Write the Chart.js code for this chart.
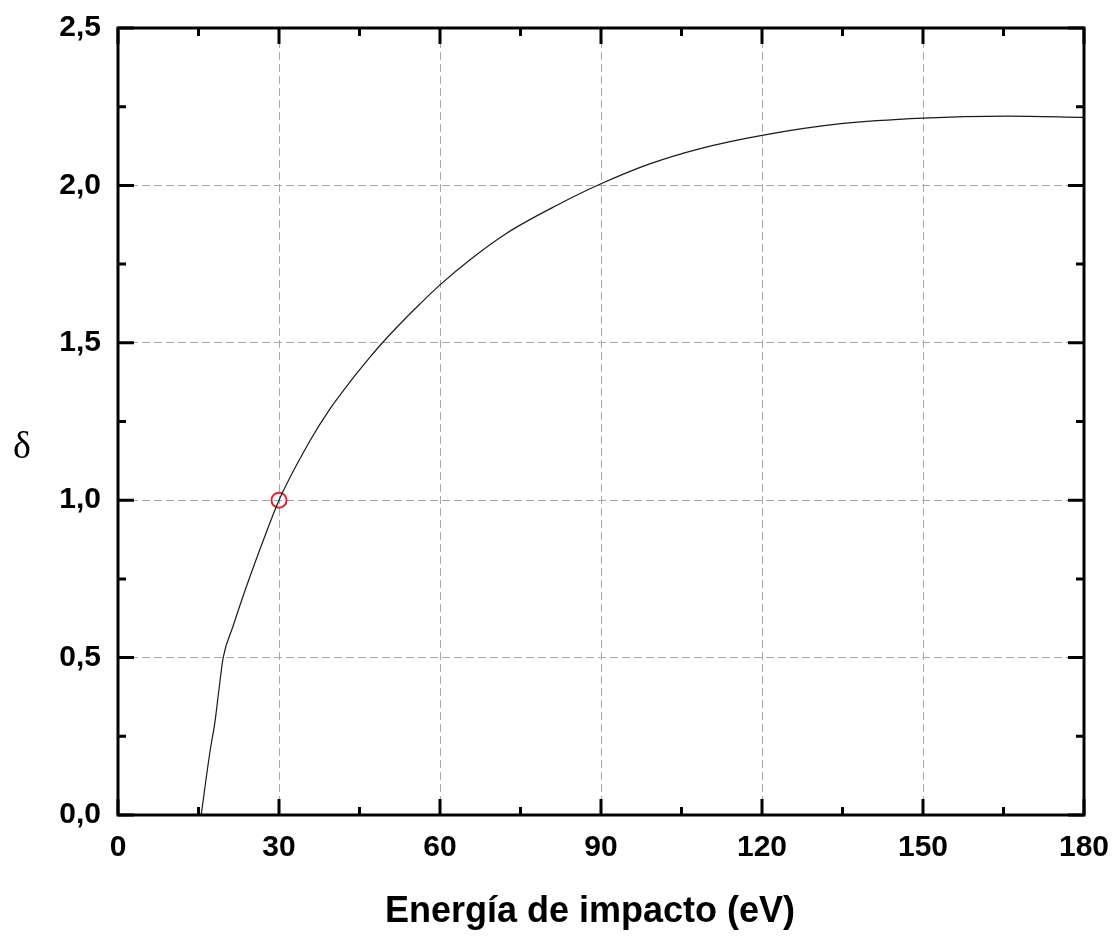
<!DOCTYPE html>
<html>
<head>
<meta charset="utf-8">
<script src="https://cdn.jsdelivr.net/npm/chart.js@4"></script>
<style>
  body { margin: 0; background: #fff; }
  #wrap { width: 1120px; height: 936px; }
</style>
</head>
<body>
<div id="wrap"><canvas id="grafica"></canvas></div>
<script>
// curva de emisión secundaria
const energia = [15.5, 17.1, 18.1, 18.8, 19.6, 21.4, 23.3, 24.9, 27.4, 30, 35.75, 39.5, 43.2, 47, 49.1, 52.5, 56.3, 60, 65.6, 72.5, 81.8, 90, 99.2, 108.5, 120, 134.7, 150, 165.8, 180];
const delta = [0, 0.197, 0.3, 0.397, 0.5, 0.598, 0.695, 0.772, 0.887, 1.0, 1.188, 1.29, 1.375, 1.455, 1.497, 1.559, 1.624, 1.684, 1.764, 1.849, 1.937, 2.005, 2.069, 2.117, 2.159, 2.196, 2.214, 2.22, 2.216];

// punto marcado (delta = 1)
const marcaX = [30];
const marcaY = [1.0];

// ticks
const xTicks = [0, 30, 60, 90, 120, 150, 180];
const xMinor = [15, 45, 75, 105, 135, 165];
const yTicks = [0, 0.5, 1.0, 1.5, 2.0, 2.5];
const yTickLabels = ['0,0', '0,5', '1,0', '1,5', '2,0', '2,5'];
const yMinor = [0.25, 0.75, 1.25, 1.75, 2.25];

const tituloX = 'Energía de impacto (eV)';
const tituloY = 'δ';

// marco, ticks hacia dentro y títulos (como en Origin)
const marco = {
  id: 'marco',
  afterDatasetsDraw(chart) {
    const { ctx, chartArea: a, scales } = chart;
    const sx = scales.x, sy = scales.y;
    ctx.save();
    ctx.strokeStyle = '#000';
    ctx.lineWidth = 3;
    ctx.lineCap = 'butt';
    ctx.beginPath();
    const tick = (vals, len) => {
      vals.forEach(v => {
        const px = sx.getPixelForValue(v);
        ctx.moveTo(px, a.bottom); ctx.lineTo(px, a.bottom - len);
        ctx.moveTo(px, a.top); ctx.lineTo(px, a.top + len);
      });
    };
    const tickY = (vals, len) => {
      vals.forEach(v => {
        const py = sy.getPixelForValue(v);
        ctx.moveTo(a.left, py); ctx.lineTo(a.left + len, py);
        ctx.moveTo(a.right, py); ctx.lineTo(a.right - len, py);
      });
    };
    tick(xTicks, 16);
    tick(xMinor, 8);
    tickY(yTicks, 16);
    tickY(yMinor, 8);
    ctx.stroke();
    ctx.strokeRect(a.left, a.top, a.right - a.left, a.bottom - a.top);

    ctx.fillStyle = '#000';
    ctx.textAlign = 'center';
    ctx.textBaseline = 'middle';
    // título del eje y (sin rotar)
    ctx.font = '38px "Liberation Serif", "Times New Roman", serif';
    ctx.fillText(tituloY, 22, 448);
    // título del eje x
    ctx.font = 'bold 36px "Liberation Sans", Arial, sans-serif';
    ctx.fillText(tituloX, 590, 912);
    ctx.restore();
  }
};

const fuente = { family: '"Liberation Sans", Arial, sans-serif', size: 30, weight: 'bold' };

new Chart(document.getElementById('grafica'), {
  type: 'scatter',
  data: {
    datasets: [{
      data: energia.map((e, i) => ({ x: e, y: delta[i] })),
      showLine: true,
      borderColor: '#1a1a1a',
      borderWidth: 1.2,
      pointRadius: 0,
      cubicInterpolationMode: 'monotone'
    }, {
      data: marcaX.map((e, i) => ({ x: e, y: marcaY[i] })),
      pointStyle: 'circle',
      pointRadius: 7.5,
      borderColor: '#e8202a',
      borderWidth: 2,
      backgroundColor: 'rgba(0,0,0,0)'
    }]
  },
  options: {
    responsive: true,
    maintainAspectRatio: false,
    animation: false,
    layout: { padding: { top: 28, right: 36, left: 0, bottom: 0 } },
    plugins: { legend: { display: false }, tooltip: { enabled: false } },
    scales: {
      x: {
        type: 'linear',
        min: 0, max: 180,
        afterBuildTicks: s => { s.ticks = xTicks.map(v => ({ value: v })); },
        afterFit: s => { s.height = 121; s.paddingLeft = 0; s.paddingRight = 0; },
        ticks: { color: '#000', font: fuente, padding: 15, maxRotation: 0 },
        grid: { color: '#a8a8a8', lineWidth: 1, drawTicks: false },
        border: { display: false, dash: [8, 4] }
      },
      y: {
        type: 'linear',
        min: 0, max: 2.5,
        afterBuildTicks: s => { s.ticks = yTicks.map(v => ({ value: v })); },
        afterFit: s => { s.width = 118; s.paddingTop = 0; s.paddingBottom = 0; },
        ticks: {
          color: '#000', font: fuente, padding: 17,
          callback: v => yTickLabels[yTicks.indexOf(v)] ?? ''
        },
        grid: { color: '#a8a8a8', lineWidth: 1, drawTicks: false },
        border: { display: false, dash: [8, 4] }
      }
    }
  },
  plugins: [marco]
});
</script>
</body>
</html>
